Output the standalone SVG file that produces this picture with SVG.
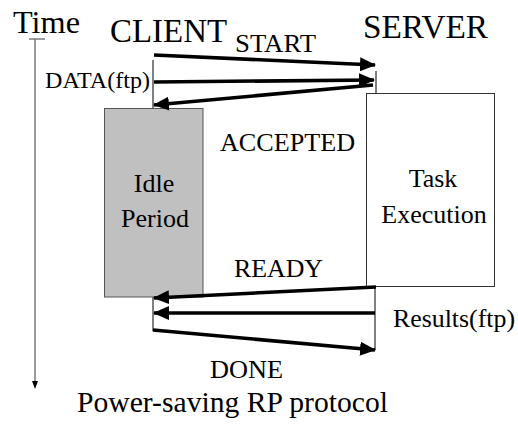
<svg xmlns="http://www.w3.org/2000/svg" width="518" height="424" viewBox="0 0 518 424">
<defs>
<style>
.thick{stroke:#000;stroke-width:3.6;fill:none;marker-end:url(#ah)}
.thin{stroke:#000;stroke-width:1;fill:none}
.gthin{stroke:#666;stroke-width:1.3;fill:none}
</style>
<marker id="ah" markerUnits="userSpaceOnUse" markerWidth="16" markerHeight="14" refX="15" refY="7" orient="auto" viewBox="0 0 16 14">
<path d="M0,0 L16,7 L0,14 Z" fill="#000"/>
</marker>
</defs>
<rect width="518" height="424" fill="#fff"/>
<g font-family="Liberation Serif, Times New Roman, serif" fill="#000">
<g id="time-axis">
<text x="13" y="33" font-size="31" textLength="67" lengthAdjust="spacingAndGlyphs">Time</text>
<line class="gthin" x1="29" y1="39" x2="45" y2="39"/>
<line class="gthin" x1="35" y1="39" x2="35" y2="383"/>
<path d="M32,381 L38,381 L35,389 Z" fill="#000"/>
</g>
<g id="client">
<text x="110" y="42" font-size="34" textLength="117" lengthAdjust="spacingAndGlyphs">CLIENT</text>
<line class="thin" x1="153" y1="60" x2="153" y2="108"/>
<line class="thin" x1="153" y1="297" x2="153" y2="331"/>
</g>
<g id="server">
<text x="363" y="38" font-size="34" textLength="125" lengthAdjust="spacingAndGlyphs">SERVER</text>
<line class="thin" x1="376" y1="71" x2="376" y2="93"/>
<line class="thin" x1="375" y1="287" x2="375" y2="350"/>
</g>
<g id="idle-period">
<rect x="104.5" y="108.5" width="98.5" height="188.5" fill="#c0c0c0" stroke="#555" stroke-width="1"/>
<text x="154" y="192" font-size="26" text-anchor="middle">Idle</text>
<text x="155" y="227" font-size="26" text-anchor="middle">Period</text>
</g>
<g id="task-execution">
<rect x="366.5" y="93.5" width="128" height="193" fill="#fff" stroke="#333" stroke-width="1"/>
<text x="433" y="187" font-size="26" text-anchor="middle">Task</text>
<text x="434" y="223" font-size="26" text-anchor="middle">Execution</text>
</g>
<g id="connectors">
<line class="thick" x1="154" y1="55" x2="375" y2="65"/>
<line class="thick" x1="154" y1="82" x2="374" y2="80"/>
<line class="thick" x1="373" y1="85" x2="154" y2="105"/>
<line class="thick" x1="376" y1="287" x2="154" y2="298"/>
<line class="thick" x1="375" y1="313" x2="154" y2="313"/>
<line class="thick" x1="153" y1="330" x2="375" y2="350"/>
</g>
<g id="labels">
<text x="235" y="52" font-size="25" textLength="81" lengthAdjust="spacingAndGlyphs">START</text>
<text x="45" y="88" font-size="23" textLength="105" lengthAdjust="spacingAndGlyphs">DATA(ftp)</text>
<text x="220" y="151" font-size="26" textLength="135" lengthAdjust="spacingAndGlyphs">ACCEPTED</text>
<text x="234" y="277" font-size="26" textLength="89" lengthAdjust="spacingAndGlyphs">READY</text>
<text x="393" y="327" font-size="26" textLength="122" lengthAdjust="spacingAndGlyphs">Results(ftp)</text>
<text x="210" y="378" font-size="26" textLength="73" lengthAdjust="spacingAndGlyphs">DONE</text>
<text x="77" y="412" font-size="29.5" textLength="311" lengthAdjust="spacingAndGlyphs">Power-saving RP protocol</text>
</g>
</g>
</svg>
